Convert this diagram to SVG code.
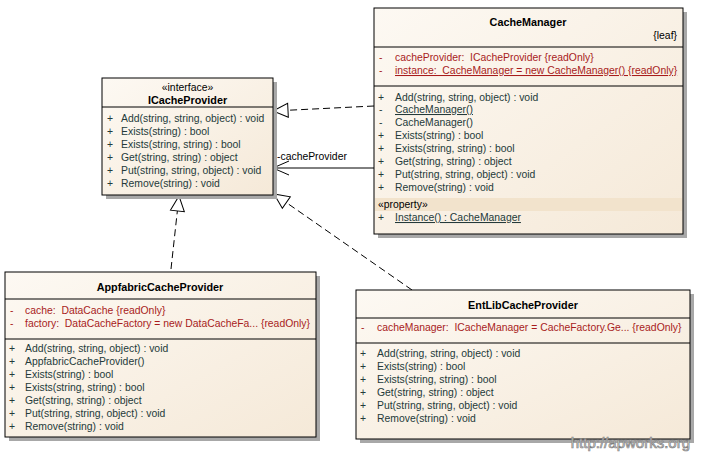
<svg xmlns="http://www.w3.org/2000/svg" width="701" height="453" viewBox="0 0 701 453">
<defs>
<linearGradient id="bg" x1="0" y1="0" x2="1" y2="1">
<stop offset="0" stop-color="#fdf9f3"/>
<stop offset="1" stop-color="#f5e9d8"/>
</linearGradient>
<marker id="tri" markerWidth="18" markerHeight="18" refX="16" refY="8" orient="auto" markerUnits="userSpaceOnUse">
<path d="M1,1 L16,8 L1,15 Z" fill="#fff" stroke="#000" stroke-width="1"/>
</marker>
<marker id="open" markerWidth="20" markerHeight="18" refX="17" refY="8" orient="auto" markerUnits="userSpaceOnUse">
<path d="M1,1 L17,8 L1,15" fill="none" stroke="#000" stroke-width="1"/>
</marker>
</defs>
<style>
.box{fill:url(#bg);stroke:#000;stroke-width:1}
.sh{fill:#a8a8a8}
.sep{stroke:#000;stroke-width:1}
text{font-family:"Liberation Sans",Arial,sans-serif;font-size:10.4px;white-space:pre}
.t{font-weight:bold;font-size:10.8px;fill:#000}
.m{fill:#243a3a}
.a{fill:#a81c1c}
.v{fill:#243a3a}
.va{fill:#a81c1c}
.u{text-decoration:underline}
.dash{fill:none;stroke:#000;stroke-width:1;stroke-dasharray:7,4}
.solid{fill:none;stroke:#000;stroke-width:1}
.lbl{fill:#000}
</style>
<rect width="701" height="453" fill="#fff"/>

<g id="connectors">
<path class="dash" d="M374,106 L273,111" marker-end="url(#tri)"/>
<path class="solid" d="M374,168 L273,168" marker-end="url(#open)"/>
<text class="lbl" x="277" y="160">-cacheProvider</text>
<path class="dash" d="M171,269 L179,196" marker-end="url(#tri)"/>
<path class="dash" d="M412,290 L274,194" marker-end="url(#tri)"/>
</g>

<g id="ICacheProvider">
<rect class="sh" x="106" y="82" width="171" height="117"/>
<rect class="box" x="102" y="78" width="171" height="117"/>
<line class="sep" x1="102" y1="107" x2="273" y2="107"/>
<text x="187.5" y="91" text-anchor="middle" fill="#000">«interface»</text>
<text class="t" x="187.5" y="104" text-anchor="middle">ICacheProvider</text>
<g class="v"><text x="107" y="122">+</text><text x="107" y="135">+</text><text x="107" y="148">+</text><text x="107" y="161">+</text><text x="107" y="174">+</text><text x="107" y="187">+</text></g>
<g class="m">
<text x="121" y="122">Add(string, string, object) : void</text>
<text x="121" y="135">Exists(string) : bool</text>
<text x="121" y="148">Exists(string, string) : bool</text>
<text x="121" y="161">Get(string, string) : object</text>
<text x="121" y="174">Put(string, string, object) : void</text>
<text x="121" y="187">Remove(string) : void</text>
</g>
</g>

<g id="CacheManager">
<rect class="sh" x="378" y="12" width="309" height="226"/>
<rect class="box" x="374" y="8" width="309" height="226"/>
<rect x="375" y="198" width="307" height="13" fill="#f2e3cc"/>
<line class="sep" x1="374" y1="47" x2="683" y2="47"/>
<line class="sep" x1="374" y1="86" x2="683" y2="86"/>
<text class="t" x="528" y="26" text-anchor="middle">CacheManager</text>
<text x="677" y="39" text-anchor="end" fill="#000">{leaf}</text>
<text class="va" x="379" y="61">-</text>
<text class="va" x="379" y="74">-</text>
<text class="a" x="395" y="61">cacheProvider:  ICacheProvider {readOnly}</text>
<text class="a u" x="395" y="74">instance:  CacheManager = new CacheManager() {readOnly}</text>
<g class="v"><text x="378" y="101">+</text><text x="379" y="113">-</text><text x="379" y="126">-</text><text x="378" y="139">+</text><text x="378" y="152">+</text><text x="378" y="165">+</text><text x="378" y="178">+</text><text x="378" y="191">+</text><text x="378" y="221">+</text></g>
<g class="m">
<text x="395" y="101">Add(string, string, object) : void</text>
<text class="u" x="395" y="113">CacheManager()</text>
<text x="395" y="126">CacheManager()</text>
<text x="395" y="139">Exists(string) : bool</text>
<text x="395" y="152">Exists(string, string) : bool</text>
<text x="395" y="165">Get(string, string) : object</text>
<text x="395" y="178">Put(string, string, object) : void</text>
<text x="395" y="191">Remove(string) : void</text>
<text class="u" x="395" y="221">Instance() : CacheManager</text>
</g>
<text x="378" y="208" fill="#000">«property»</text>
</g>

<g id="AppfabricCacheProvider">
<rect class="sh" x="9" y="276" width="311" height="165"/>
<rect class="box" x="5" y="272" width="311" height="165"/>
<line class="sep" x1="5" y1="299" x2="316" y2="299"/>
<line class="sep" x1="5" y1="339" x2="316" y2="339"/>
<text class="t" x="160" y="291" text-anchor="middle">AppfabricCacheProvider</text>
<text class="va" x="10" y="314">-</text>
<text class="va" x="10" y="327">-</text>
<text class="a" x="25" y="314">cache:  DataCache {readOnly}</text>
<text class="a" x="25" y="327">factory:  DataCacheFactory = new DataCacheFa... {readOnly}</text>
<g class="v"><text x="9" y="352">+</text><text x="9" y="365">+</text><text x="9" y="378">+</text><text x="9" y="391">+</text><text x="9" y="404">+</text><text x="9" y="417">+</text><text x="9" y="430">+</text></g>
<g class="m">
<text x="25" y="352">Add(string, string, object) : void</text>
<text x="25" y="365">AppfabricCacheProvider()</text>
<text x="25" y="378">Exists(string) : bool</text>
<text x="25" y="391">Exists(string, string) : bool</text>
<text x="25" y="404">Get(string, string) : object</text>
<text x="25" y="417">Put(string, string, object) : void</text>
<text x="25" y="430">Remove(string) : void</text>
</g>
</g>

<g id="EntLibCacheProvider">
<rect class="sh" x="360" y="294" width="334" height="149"/>
<rect class="box" x="356" y="290" width="334" height="149"/>
<line class="sep" x1="356" y1="318" x2="690" y2="318"/>
<line class="sep" x1="356" y1="343" x2="690" y2="343"/>
<text class="t" x="523" y="309" text-anchor="middle">EntLibCacheProvider</text>
<text class="va" x="361" y="331">-</text>
<text class="a" x="377" y="331">cacheManager:  ICacheManager = CacheFactory.Ge... {readOnly}</text>
<g class="v"><text x="360" y="357">+</text><text x="360" y="370">+</text><text x="360" y="383">+</text><text x="360" y="396">+</text><text x="360" y="409">+</text><text x="360" y="422">+</text></g>
<g class="m">
<text x="377" y="357">Add(string, string, object) : void</text>
<text x="377" y="370">Exists(string) : bool</text>
<text x="377" y="383">Exists(string, string) : bool</text>
<text x="377" y="396">Get(string, string) : object</text>
<text x="377" y="409">Put(string, string, object) : void</text>
<text x="377" y="422">Remove(string) : void</text>
</g>
</g>

<text x="690" y="448" text-anchor="end" style="font-size:15px" fill="#e0e0e0" stroke="#808080" stroke-width="0.7">http://apworks.org</text>
</svg>
